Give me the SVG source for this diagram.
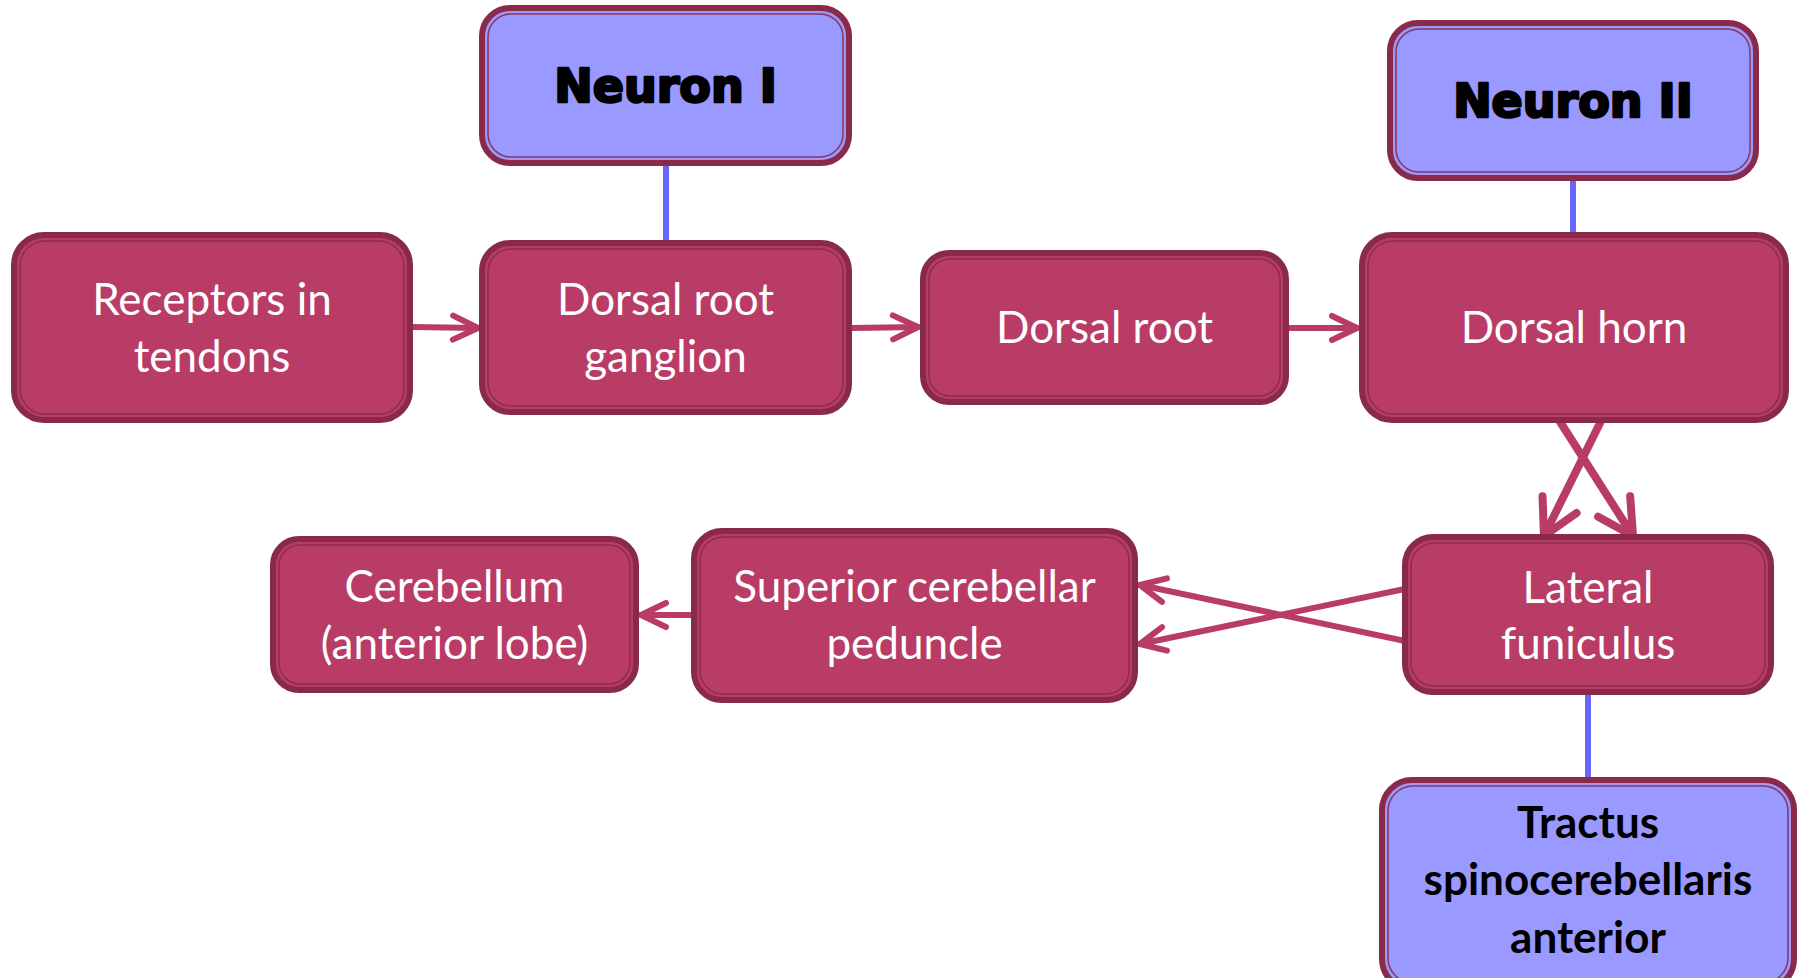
<svg xmlns="http://www.w3.org/2000/svg" width="1804" height="978" viewBox="0 0 1804 978">
<style>
.pk{fill:#B93C67;stroke:#8A2A4A;stroke-width:6}
.bl{fill:#9999FF;stroke:#8A2A4A;stroke-width:6}
.in{fill:none;stroke:#8A2A4A;stroke-width:1.5;opacity:0.9}
.t{font-family:Lato,"Liberation Sans",sans-serif;font-size:44px;fill:#FFFFFF;text-anchor:middle}
.n{font-family:"DejaVu Sans","Liberation Sans",sans-serif;font-weight:bold;font-size:46px;fill:#000;stroke:#000;stroke-width:2.5;stroke-linejoin:round;text-anchor:middle}
.b{font-family:Lato,"Liberation Sans",sans-serif;font-weight:bold;font-size:44px;fill:#000;text-anchor:middle}
.ar{fill:none;stroke:#B93C67;stroke-width:6;stroke-linecap:round}
.arw{fill:none;stroke:#B93C67;stroke-width:8;stroke-linecap:round}
.lk{fill:none;stroke:#6666FF;stroke-width:6;stroke-linecap:round}
</style>
<defs>
<marker id="ah" markerUnits="userSpaceOnUse" viewBox="-30 -16 34 32" refX="0" refY="0" markerWidth="34" markerHeight="32" orient="auto">
<path d="M-25,-12 L0,0 L-25,12" fill="none" stroke="#B93C67" stroke-width="6" stroke-linecap="round" stroke-linejoin="round"/>
</marker>
<marker id="ahL" markerUnits="userSpaceOnUse" viewBox="-42 -24 48 48" refX="0" refY="0" markerWidth="48" markerHeight="48" orient="auto">
<path d="M-35,-19 L0,0 L-35,19" fill="none" stroke="#B93C67" stroke-width="8" stroke-linecap="round" stroke-linejoin="round"/>
</marker>
</defs>
<g id="connectors">
<line class="ar" x1="413" y1="327" x2="478" y2="328" marker-end="url(#ah)"/>
<line class="ar" x1="852" y1="328" x2="918" y2="327" marker-end="url(#ah)"/>
<line class="ar" x1="1289" y1="328" x2="1357" y2="328" marker-end="url(#ah)"/>
<line class="arw" x1="1557" y1="417" x2="1633" y2="536" marker-end="url(#ahL)"/>
<line class="arw" x1="1603" y1="417" x2="1544" y2="536" marker-end="url(#ahL)"/>
<line class="ar" x1="1424" y1="585" x2="1140" y2="644" marker-end="url(#ah)"/>
<line class="ar" x1="1424" y1="645" x2="1140" y2="585" marker-end="url(#ah)"/>
<line class="ar" x1="693" y1="615" x2="641" y2="615" marker-end="url(#ah)"/>
<line class="lk" x1="666" y1="163" x2="666" y2="245"/>
<line class="lk" x1="1573" y1="178" x2="1573" y2="237"/>
<line class="lk" x1="1588" y1="692" x2="1588" y2="780"/>
</g>
<g id="neuron1">
<rect class="bl" x="482" y="8" width="367" height="155" rx="28"/>
<rect class="in" x="488" y="14" width="355" height="143" rx="23"/>
<text class="n" x="665.5" y="102">Neuron I</text>
</g>
<g id="neuron2">
<rect class="bl" x="1390" y="23" width="366" height="155" rx="28"/>
<rect class="in" x="1396" y="29" width="354" height="143" rx="23"/>
<text class="n" x="1573" y="117">Neuron II</text>
</g>
<g id="receptors">
<rect class="pk" x="14" y="235" width="396" height="185" rx="30"/>
<rect class="in" x="20" y="241" width="384" height="173" rx="25"/>
<text class="t" x="212" y="315">Receptors in</text>
<text class="t" x="212" y="372">tendons</text>
</g>
<g id="drg">
<rect class="pk" x="482" y="243" width="367" height="169" rx="28"/>
<rect class="in" x="488" y="249" width="355" height="157" rx="23"/>
<text class="t" x="665.5" y="315">Dorsal root</text>
<text class="t" x="665.5" y="372">ganglion</text>
</g>
<g id="dorsalroot">
<rect class="pk" x="923" y="253" width="363" height="149" rx="26"/>
<rect class="in" x="929" y="259" width="351" height="137" rx="21"/>
<text class="t" x="1104.5" y="343">Dorsal root</text>
</g>
<g id="dorsalhorn">
<rect class="pk" x="1362" y="235" width="424" height="185" rx="30"/>
<rect class="in" x="1368" y="241" width="412" height="173" rx="25"/>
<text class="t" x="1574" y="343">Dorsal horn</text>
</g>
<g id="lateral">
<rect class="pk" x="1405" y="537" width="366" height="155" rx="28"/>
<rect class="in" x="1411" y="543" width="354" height="143" rx="23"/>
<text class="t" x="1588" y="603">Lateral</text>
<text class="t" x="1588" y="659">funiculus</text>
</g>
<g id="superior">
<rect class="pk" x="694" y="531" width="441" height="169" rx="28"/>
<rect class="in" x="700" y="537" width="429" height="157" rx="23"/>
<text class="t" x="914.5" y="602">Superior cerebellar</text>
<text class="t" x="914.5" y="659">peduncle</text>
</g>
<g id="cerebellum">
<rect class="pk" x="273" y="539" width="363" height="151" rx="26"/>
<rect class="in" x="279" y="545" width="351" height="139" rx="21"/>
<text class="t" x="454.5" y="602">Cerebellum</text>
<text class="t" x="454.5" y="659">(anterior lobe)</text>
</g>
<g id="tractus">
<rect class="bl" x="1382" y="780" width="412" height="209" rx="30"/>
<rect class="in" x="1388" y="786" width="400" height="197" rx="25"/>
<text class="b" x="1588" y="838">Tractus</text>
<text class="b" x="1588" y="895">spinocerebellaris</text>
<text class="b" x="1588" y="953">anterior</text>
</g>
</svg>
